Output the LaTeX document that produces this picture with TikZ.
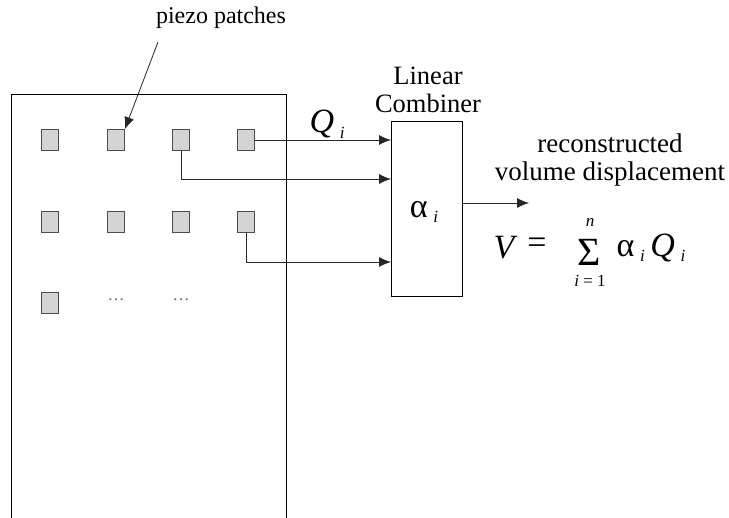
\documentclass[tikz,border=0pt]{standalone}
\usepackage{fontspec}
\setmainfont{Liberation Serif}
\usetikzlibrary{positioning,calc,arrows.meta}
\newcommand\lblsize{\fontsize{26.5}{28}\selectfont}
\newcommand\eqsize{\fontsize{34}{38}\selectfont}
\newcommand\idxsize{\fontsize{17}{20}\selectfont}

\begin{document}
\begin{tikzpicture}[
  x=1pt,y=-1pt,
  every node/.style={font=\lblsize,inner sep=0pt},
  patch/.style={rectangle,draw=black!70,fill=black!17,line width=0.8pt,
    minimum width=17pt,minimum height=21pt},
  conn/.style={line width=0.8pt,black!85,-{Latex[length=12pt,width=10pt]}}
]
\useasboundingbox (0,0) rectangle (729,518);
% plate with the patches
\draw[line width=1pt] (11,518) -- (11,95) -- (286,95) -- (286,518);
\foreach \c/\x in {1/50,2/116,3/181,4/246}{
  \node[patch] (p1\c) at (\x,140) {};
  \node[patch] (p2\c) at (\x,222) {};
}
\node[patch] (p31) at (50,303) {};
\node[font=\idxsize,text=black!60] (dots1) at (116,300) {\dots};
\node[font=\idxsize,text=black!60] (dots2) at (181,300) {\dots};

\node[font=\fontsize{24}{28}\selectfont] (piezo) at (221,18) {piezo patches};
\coordinate (ptail) at (158,42);
\draw[conn] (ptail) -- (p12.north east);

% linear combiner
\node[rectangle,draw,line width=1pt,minimum width=71pt,minimum height=175pt] (comb) at (426.5,209.5) {};
\node[align=center] (combtxt) at (428,90) {Linear\\Combiner};
\node[font=\eqsize] (alpha) at (424,212) {α\raisebox{-0.35ex}{\,\itshape\idxsize i}};

\coordinate (in1) at (391,140);
\coordinate (in2) at (391,179);
\coordinate (in3) at (391,262);
\draw[conn] (p14.east) -- (in1);
\draw[conn] (p13.south) |- (in2);
\draw[conn] (p24.south) |- (in3);
\node (qlbl) at (327,124) {\eqsize\itshape Q\raisebox{-0.4ex}{\,\idxsize i}};

% output
\coordinate (outend) at (529,203);
\draw[conn] (comb.east |- outend) -- (outend);
\node[align=center,font=\fontsize{27}{28}\selectfont] (recon) at (610,160) {reconstructed\\volume displacement};

% formula
\node[font=\eqsize\itshape] (vsym) at (504,248) {V};
\node[font=\eqsize] (eqs) at (537,246) {=};
\node[font=\fontsize{40}{40}\selectfont] (sig) at (589,252) {Σ};
\node[font=\idxsize\itshape] (upper) at (590,222) {n};
\node[font=\idxsize] (lower) at (590,281) {\itshape i \upshape = 1};
\node[font=\eqsize] (sumterm) at (651,248) {α\raisebox{-0.35ex}{\,\idxsize\itshape i}\,\itshape Q\raisebox{-0.35ex}{\,\idxsize i}};
\end{tikzpicture}
\end{document}
